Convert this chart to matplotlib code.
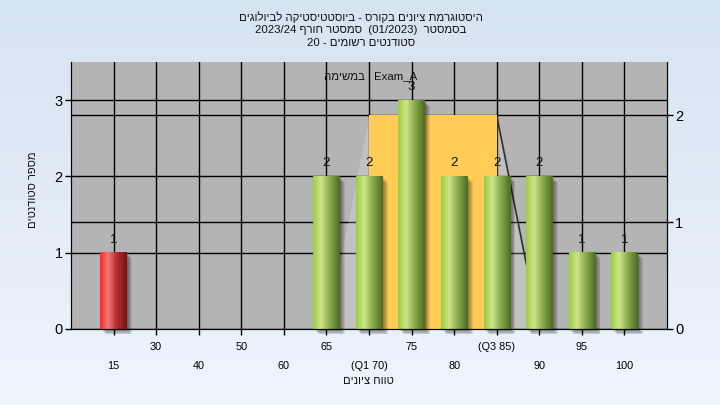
import re

import matplotlib
matplotlib.use("Agg")
import matplotlib.pyplot as plt
import matplotlib.transforms as mtransforms
import numpy as np
from matplotlib.colors import LinearSegmentedColormap
from matplotlib.patches import Rectangle

plt.rcParams["font.family"] = ["Liberation Sans", "DejaVu Sans"]

# data
grades = ["15", "30", "40", "50", "60", "65", "(Q1 70)", "75", "80", "(Q3 85)", "90", "95", "100"]
counts = [1, 0, 0, 0, 0, 2, 2, 3, 2, 2, 2, 1, 1]
failing = [True] + [False] * 12
spread_vals = [0, 0, 0, 0, 0, 0, 2, 2, 2, 2, 0, 0, 0]   # right axis
q1_idx, q3_idx = 6, 9
box_top = 2                                             # right axis
left_ticks = [0, 1, 2, 3]
right_ticks = [0, 1, 2]
left_max, right_max = 3.5, 2.5

title_lines = [
    "היסטוגרמת ציונים בקורס - ביוסטטיסטיקה לביולוגים",
    "בסמסטר  (01/2023)  סמסטר חורף 2023/24",
    "סטודנטים רשומים - 20",
]
task_word = "במשימה"
task_name = "Exam_A"
xlabel = "טווח ציונים"
ylabel = "מספר סטודנטים"


def rtl(s):
    # matplotlib lays glyphs out left to right, so build the visual order by hand
    r = s[::-1]
    r = re.sub(r"[0-9/]+", lambda m: m.group(0)[::-1], r)
    return r.translate(str.maketrans("()", ")("))


green = LinearSegmentedColormap.from_list(
    "g", [(0, "#9ccb3e"), (0.3, "#cde68c"), (0.6, "#8cae4e"), (1, "#4d6a22")])
red = LinearSegmentedColormap.from_list(
    "r", [(0, "#ff2424"), (0.3, "#f07a7a"), (0.6, "#b83232"), (1, "#7a1010")])
grad = np.linspace(0, 1, 256).reshape(1, -1)

fig = plt.figure(figsize=(7.2, 4.05), dpi=100)

# light blue figure background
bg = fig.add_axes([0, 0, 1, 1], zorder=-10)
bg_cmap = LinearSegmentedColormap.from_list("bg", ["#d6e3f1", "#eef5fd"])
bg.imshow(np.linspace(0, 1, 256).reshape(-1, 1), cmap=bg_cmap, aspect="auto",
          extent=(0, 1, 0, 1))
bg.axis("off")

ax = fig.add_axes([71 / 720, 76 / 405, 596 / 720, 267 / 405])
ax2 = ax.twinx()
ax.set_facecolor("#b4b4b4")
ax2.patch.set_visible(False)

pos = np.arange(1, len(grades) + 1)
width = 0.62

# grid lines (left and right scales)
ax.set_axisbelow(True)
ax.grid(True, color="black", linewidth=1)
right_line = mtransforms.blended_transform_factory(ax.transAxes, ax2.transData)
for v in right_ticks[1:]:
    ax.plot([0, 1], [v, v], color="black", lw=1, transform=right_line, zorder=0.6)

# spread area and inter-quartile box, both on the right scale
ax.fill_between(pos, spread_vals, color="white", alpha=0.18, lw=0,
                transform=ax2.transData, zorder=0.8)
ax.plot(pos[q3_idx:q3_idx + 2], spread_vals[q3_idx:q3_idx + 2], color="#303030",
        lw=1.2, transform=ax2.transData, zorder=0.9)
ax.add_patch(Rectangle((pos[q1_idx], 0), pos[q3_idx] - pos[q1_idx], box_top,
                       facecolor="#ffcc55", edgecolor="none",
                       transform=ax2.transData, zorder=1))

# bars with cylinder shading and soft shadow
for x, c, bad in zip(pos, counts, failing):
    if c == 0:
        continue
    for i in range(1, 7):
        sh = mtransforms.offset_copy(ax.transData, fig, x=i * 0.9, y=-i * 0.9, units="dots")
        ax.add_patch(Rectangle((x - width / 2, 0), width, c, facecolor="black",
                               alpha=0.09, lw=0, transform=sh, zorder=2.5, clip_on=False))
    ax.imshow(grad, cmap=red if bad else green, aspect="auto", interpolation="bilinear",
              extent=(x - width / 2, x + width / 2, 0, c), zorder=3)
    ax.annotate(str(c), (x, c), xytext=(0, 9.5), textcoords="offset points",
                ha="center", va="center", fontsize=9.5, color="#101010", zorder=4)

ax.text((324 - 71) / 596, 1 - 14 / 267, task_word[::-1] + " : " + task_name,
        transform=ax.transAxes, ha="left", va="center", fontsize=8.2,
        color="#101010", zorder=4)

ax.set_xlim(0, len(grades) + 1)
ax.set_ylim(0, left_max)
ax2.set_ylim(0, right_max)

ax.set_xticks(pos, grades)
ax.set_yticks(left_ticks)
ax2.set_yticks(right_ticks)
ax.tick_params(axis="x", length=4, width=1, labelsize=7.8, pad=4, colors="black")
ax.tick_params(axis="y", length=4.5, width=1, labelsize=10.5, pad=1.5, colors="black")
ax2.tick_params(axis="y", length=4.5, width=1, labelsize=10.5, pad=1.5, colors="black")
for i, t in enumerate(ax.xaxis.get_major_ticks()):
    t.set_pad(5.5 if i % 2 else 19)

for a in (ax, ax2):
    a.spines["top"].set_visible(False)
    for s in ("left", "right", "bottom"):
        a.spines[s].set_color("black")
ax.spines["bottom"].set_zorder(5)

for i, line in enumerate(title_lines):
    fig.text(361 / 720, 1 - (17 + 12.8 * i) / 405, rtl(line), ha="center", va="center",
             fontsize=8.2, color="#101010")
fig.text(368 / 720, 1 - 381 / 405, rtl(xlabel), ha="center", va="center",
         fontsize=8, color="#101010")
fig.text(33 / 720, 1 - 190 / 405, rtl(ylabel), ha="center", va="center",
         rotation=90, fontsize=8, color="#101010")

fig.savefig("out.png", dpi=100)
